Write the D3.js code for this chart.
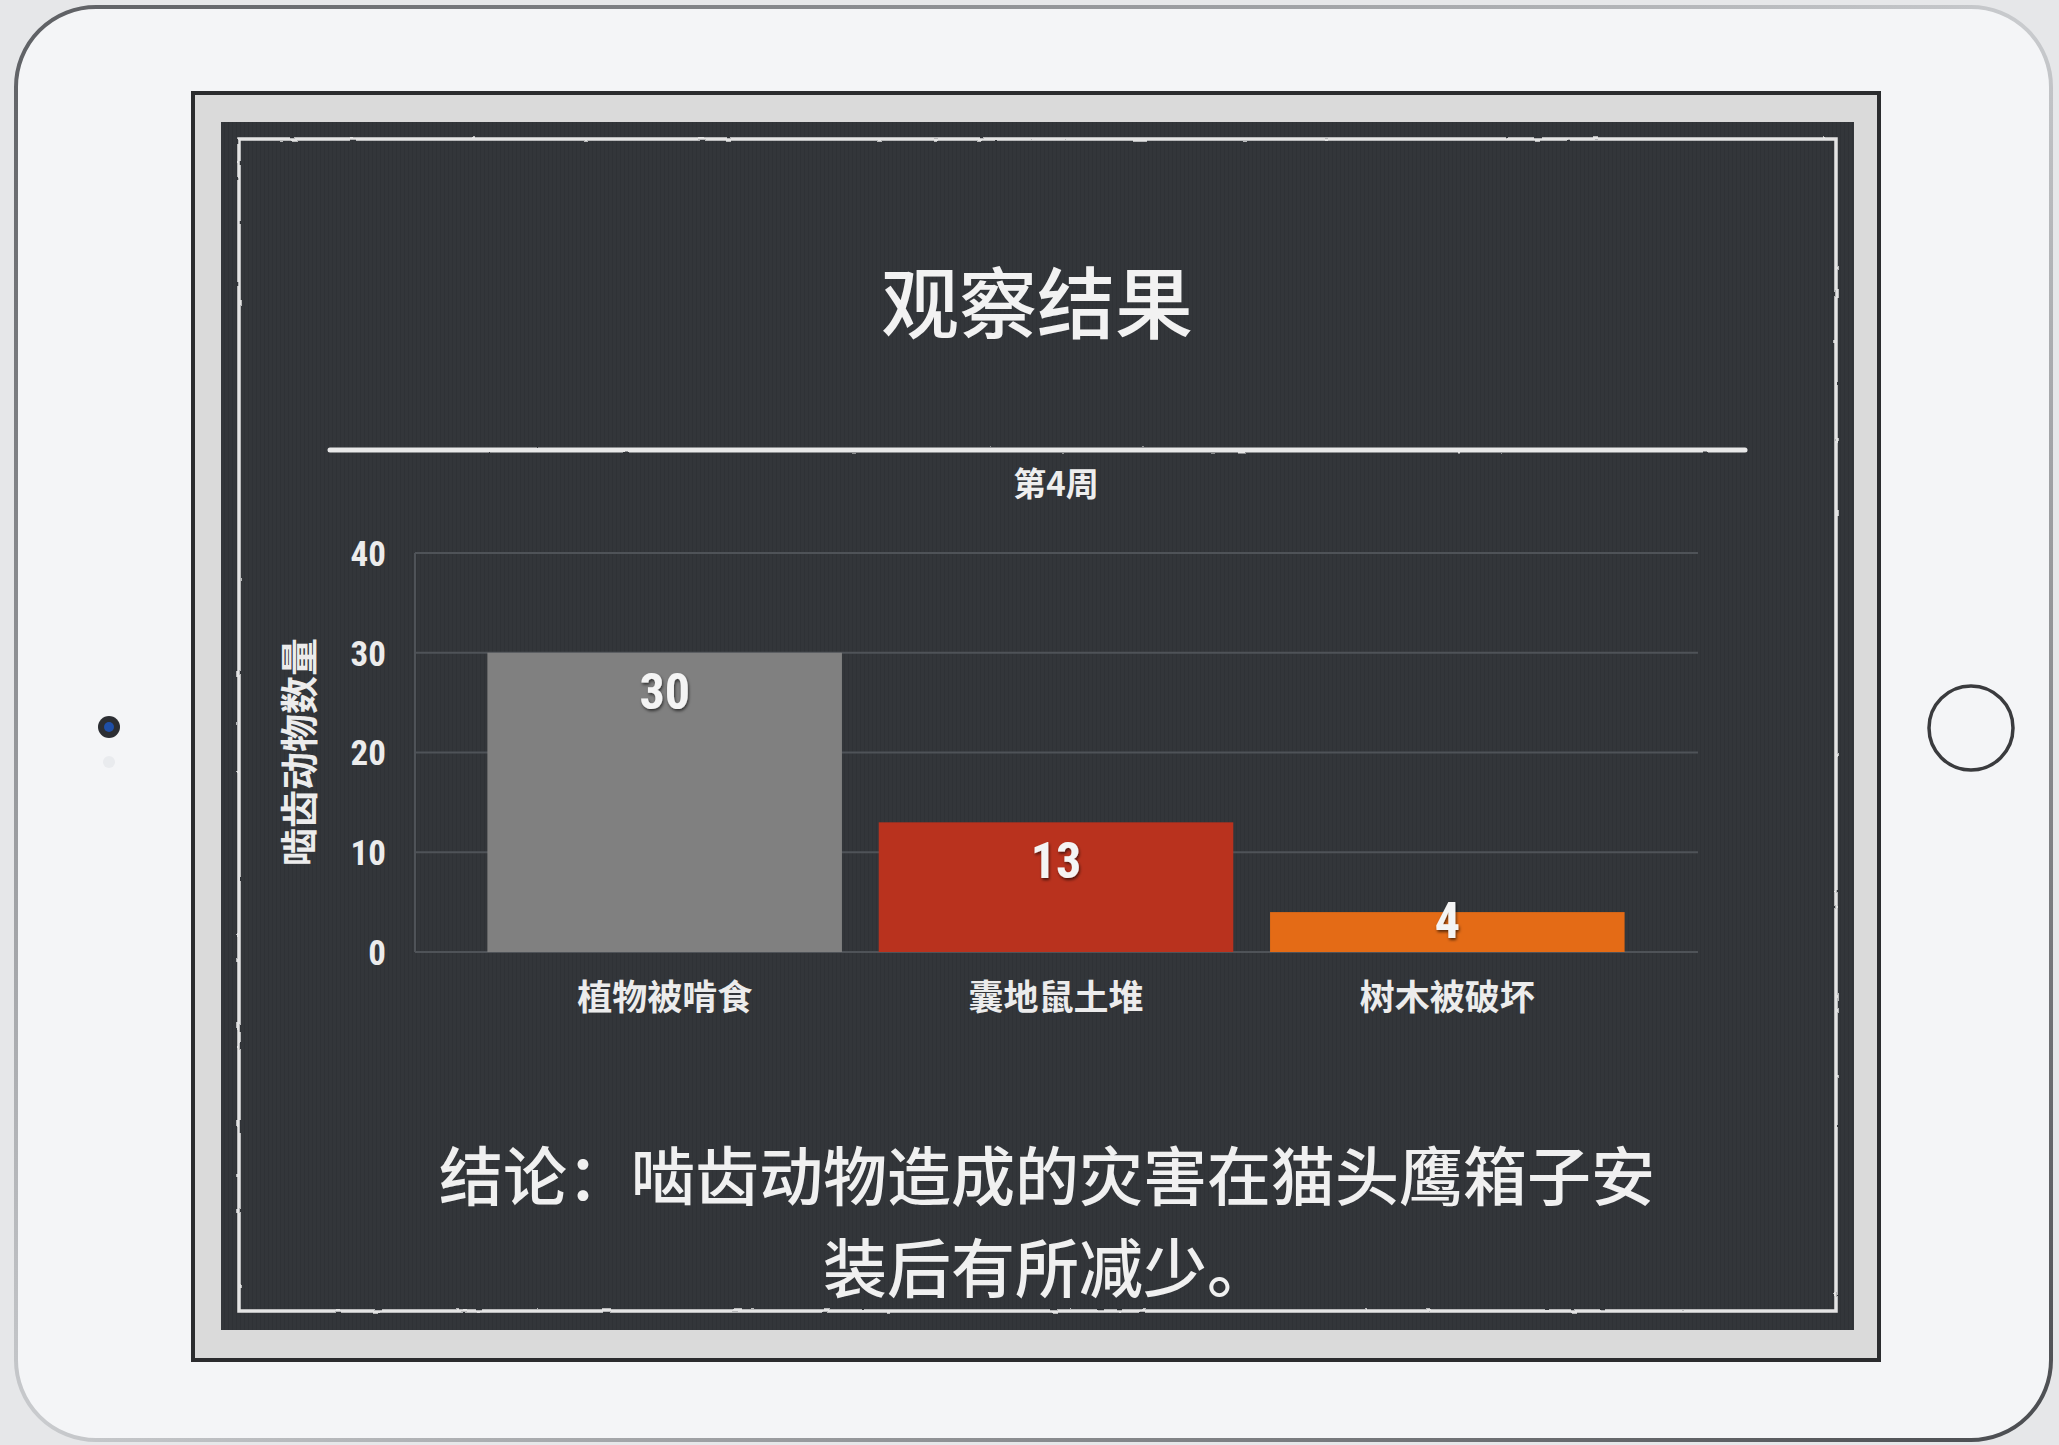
<!DOCTYPE html>
<html>
<head>
<meta charset="utf-8">
<script src="https://cdn.jsdelivr.net/npm/d3@7"></script>
<style>
  html, body { margin: 0; padding: 0; background: #e6e7e9; }
  svg { display: block; }
  .num { font-family: "Liberation Sans Narrow", "Roboto Condensed", "DejaVu Sans Condensed", "Liberation Sans", sans-serif; font-stretch: condensed; font-weight: bold; }
  .cjk { font-family: "Noto Sans CJK SC", "Noto Sans", sans-serif; }
</style>
</head>
<body>
<svg width="2059" height="1445"></svg>
<script>
var categories = ["植物被啃食", "囊地鼠土堆", "树木被破坏"];
var counts = [30, 13, 4];
var barColors = ["#808080", "#b9321e", "#e46b16"];
var yTicks = [0, 10, 20, 30, 40];
var title = "观察结果";
var subtitle = "第4周";
var yTitle = "啮齿动物数量";
var conclusion = ["结论：啮齿动物造成的灾害在猫头鹰箱子安", "装后有所减少。"];

var svg = d3.select("svg");
var defs = svg.append("defs");

// chalk look for the hand drawn lines (user space so flat lines still render)
var chalk = defs.append("filter").attr("id", "chalk")
    .attr("filterUnits", "userSpaceOnUse")
    .attr("x", 0).attr("y", 0).attr("width", 2059).attr("height", 1445);
chalk.append("feTurbulence").attr("type", "fractalNoise")
    .attr("baseFrequency", "0.06").attr("numOctaves", 2).attr("seed", 3).attr("result", "n");
chalk.append("feDisplacementMap").attr("in", "SourceGraphic").attr("in2", "n")
    .attr("scale", 2).attr("xChannelSelector", "R").attr("yChannelSelector", "G");

var shadow = defs.append("filter").attr("id", "shadow");
shadow.append("feDropShadow").attr("dx", 1).attr("dy", 2).attr("stdDeviation", 1.5)
    .attr("flood-color", "#000").attr("flood-opacity", 0.6);

// faint vertical stripes on the board
var stripes = defs.append("pattern").attr("id", "stripes")
    .attr("patternUnits", "userSpaceOnUse").attr("width", 4).attr("height", 10);
stripes.append("rect").attr("width", 4).attr("height", 10).attr("fill", "#33363a");
stripes.append("rect").attr("width", 1).attr("height", 10).attr("fill", "#2f3236");

var edge = defs.append("linearGradient").attr("id", "edge")
    .attr("x1", 0).attr("y1", 0).attr("x2", 1).attr("y2", 1);
edge.append("stop").attr("offset", "0%").attr("stop-color", "#5d5f63");
edge.append("stop").attr("offset", "50%").attr("stop-color", "#c9cbce");
edge.append("stop").attr("offset", "100%").attr("stop-color", "#4a4c50");

// tablet body
svg.append("rect").attr("x", 16).attr("y", 7).attr("width", 2035).attr("height", 1433)
    .attr("rx", 80).attr("fill", "#f4f5f7").attr("stroke", "url(#edge)").attr("stroke-width", 4);

svg.append("circle").attr("cx", 1971).attr("cy", 728).attr("r", 42)
    .attr("fill", "#f4f5f7").attr("stroke", "#3a3b3e").attr("stroke-width", 3.5);
svg.append("circle").attr("cx", 109).attr("cy", 727).attr("r", 11).attr("fill", "#2c2e33");
svg.append("circle").attr("cx", 109).attr("cy", 727).attr("r", 5).attr("fill", "#1f4fa8");
svg.append("circle").attr("cx", 109).attr("cy", 762).attr("r", 6).attr("fill", "#e9ebee");

// screen: black outline, light mat, dark board
svg.append("rect").attr("x", 193).attr("y", 93).attr("width", 1686).attr("height", 1267)
    .attr("fill", "#dadada").attr("stroke", "#2b2c2e").attr("stroke-width", 4);
svg.append("rect").attr("x", 221).attr("y", 122).attr("width", 1633).attr("height", 1208)
    .attr("fill", "url(#stripes)");
svg.append("rect").attr("x", 239).attr("y", 139).attr("width", 1597).attr("height", 1172)
    .attr("fill", "none").attr("stroke", "#e4e4e4").attr("stroke-width", 3.5).attr("filter", "url(#chalk)");

svg.append("text").attr("class", "cjk").attr("x", 1037).attr("y", 333)
    .attr("text-anchor", "middle").attr("font-size", 78).attr("font-weight", 500)
    .attr("fill", "#f2f2f2").text(title);
svg.append("line").attr("x1", 330).attr("x2", 1745).attr("y1", 450).attr("y2", 450)
    .attr("stroke", "#e8e8e8").attr("stroke-width", 5).attr("stroke-linecap", "round")
    .attr("filter", "url(#chalk)");
svg.append("text").attr("class", "cjk").attr("x", 1056).attr("y", 496)
    .attr("text-anchor", "middle").attr("font-size", 33).attr("font-weight", "bold")
    .attr("fill", "#eeeeee").text(subtitle);

// chart
var plotLeft = 415, plotRight = 1698;
var x = d3.scaleBand().domain(categories).range([469, 1643])
    .paddingInner(0.094).paddingOuter(0.047);
var y = d3.scaleLinear().domain([0, 40]).range([952, 553]);

var grid = svg.append("g");
grid.selectAll("line").data(yTicks).enter().append("line")
    .attr("x1", plotLeft).attr("x2", plotRight)
    .attr("y1", function(d) { return y(d); })
    .attr("y2", function(d) { return y(d); })
    .attr("stroke", "#4f5358").attr("stroke-width", 2);
grid.append("line").attr("x1", plotLeft).attr("x2", plotLeft)
    .attr("y1", y(40)).attr("y2", y(0)).attr("stroke", "#4f5358").attr("stroke-width", 2);

var yAxis = svg.append("g").attr("transform", "translate(386,0)")
    .call(d3.axisLeft(y).tickValues(yTicks).tickSize(0).tickPadding(0));
yAxis.select(".domain").remove();
yAxis.selectAll("text").attr("class", "num").attr("font-size", 35)
    .attr("fill", "#ececec").attr("dy", "0.35em");

svg.append("text").attr("class", "cjk")
    .attr("transform", "translate(313,752) rotate(-90)")
    .attr("text-anchor", "middle").attr("font-size", 38).attr("font-weight", "bold")
    .attr("fill", "#ececec").text(yTitle);

var bars = svg.append("g");
bars.selectAll("rect").data(counts).enter().append("rect")
    .attr("x", function(d, i) { return x(categories[i]); })
    .attr("y", function(d) { return y(d); })
    .attr("width", x.bandwidth())
    .attr("height", function(d) { return y(0) - y(d); })
    .attr("fill", function(d, i) { return barColors[i]; });

bars.selectAll("text").data(counts).enter().append("text")
    .attr("class", "num").attr("text-anchor", "middle")
    .attr("x", function(d, i) { return x(categories[i]) + x.bandwidth() / 2; })
    .attr("y", function(d) { return Math.min(y(d) + 56, y(0) - 14); })
    .attr("font-size", 50).attr("fill", "#f4f4f4").attr("filter", "url(#shadow)")
    .text(function(d) { return d; });

var xAxis = svg.append("g").attr("transform", "translate(0," + y(0) + ")")
    .call(d3.axisBottom(x).tickSize(0).tickPadding(0));
xAxis.select(".domain").remove();
xAxis.selectAll("text").attr("class", "cjk").attr("font-size", 35).attr("font-weight", "bold")
    .attr("fill", "#ececec").attr("dy", "1.65em");

svg.append("g").selectAll("text").data(conclusion).enter().append("text")
    .attr("class", "cjk").attr("x", 1047)
    .attr("y", function(d, i) { return 1200 + i * 92; })
    .attr("text-anchor", "middle").attr("font-size", 64).attr("font-weight", 500)
    .attr("fill", "#f0f0f0").text(function(d) { return d; });
</script>
</body>
</html>
